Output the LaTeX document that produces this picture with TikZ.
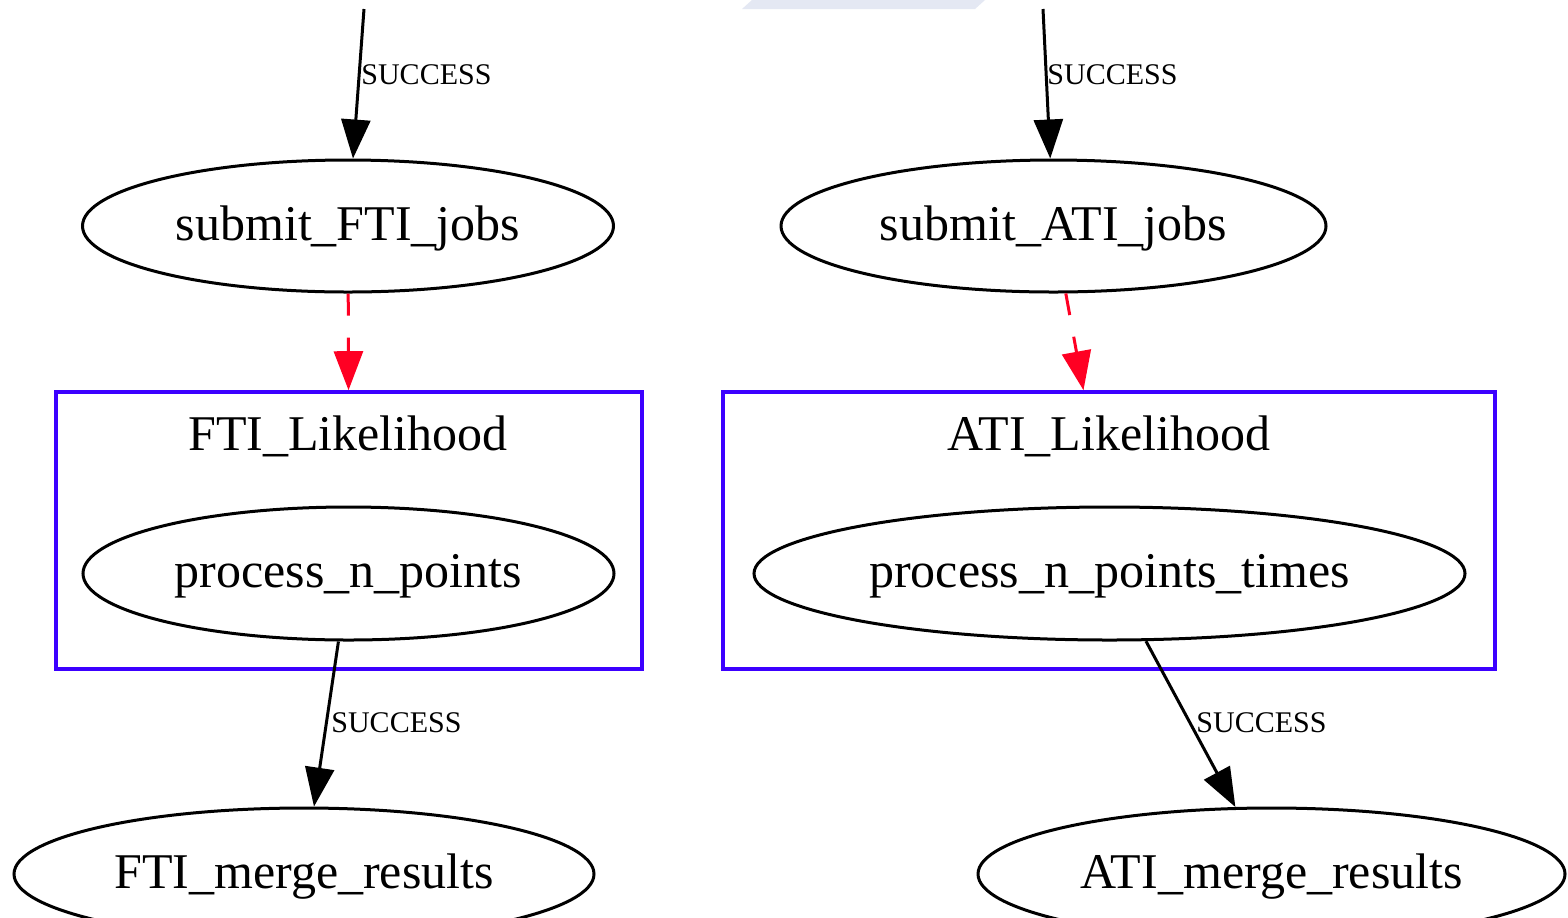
\documentclass[tikz,border=0pt]{standalone}
\usepackage{fontspec}
\setmainfont{Liberation Serif}
\usetikzlibrary{arrows.meta,shapes.geometric}
\definecolor{clblue}{RGB}{60,0,255}
\definecolor{edred}{RGB}{255,0,35}
\definecolor{faint}{RGB}{228,232,243}
\tikzset{
  job/.style={draw=black, line width=1.5pt, ellipse, inner sep=0pt,
    text height=18pt, text depth=4pt, font=\fontsize{25}{30}\selectfont},
  cluster/.style={draw=clblue, line width=1.8pt, rectangle, inner sep=0pt},
  clabel/.style={anchor=base, inner sep=0pt, font=\fontsize{25}{30}\selectfont},
  elabel/.style={anchor=base west, inner sep=0pt, font=\fontsize{15}{18}\selectfont},
  succ/.style={draw=black, line width=1.5pt, -{Triangle[length=19.5pt,width=14.5pt]}},
  dep/.style={draw=edred, line width=1.5pt, dash pattern=on 11pt off 11pt,
    -{Triangle[length=19.5pt,width=14.5pt]}, edred}
}
\begin{document}
\begin{tikzpicture}[x=0.5pt, y=-0.5pt]
\useasboundingbox (0,0) rectangle (1568,917);
\fill[white] (0,0) rectangle (1568,917);
% faint shape at the top edge
\fill[faint] (742,9) -- (752,0) -- (985,0) -- (975,9) -- cycle;

% clusters
\node[cluster, minimum width=293pt, minimum height=138.5pt] (boxF) at (349,530.5) {};
\node[cluster, minimum width=386pt, minimum height=138.5pt] (boxA) at (1109,530.5) {};
\node[clabel] (labF) at (348,450) {FTI\_Likelihood};
\node[clabel] (labA) at (1109,450) {ATI\_Likelihood};

% job nodes
\node[job, minimum width=265.5pt, minimum height=66pt] (sF) at (348,226) {submit\_FTI\_jobs};
\node[job, minimum width=272.5pt, minimum height=66pt] (sA) at (1053.5,226) {submit\_ATI\_jobs};
\node[job, minimum width=265.5pt, minimum height=66.5pt] (pF) at (348.5,573.5) {process\_n\_points};
\node[job, minimum width=355.5pt, minimum height=66.5pt] (pA) at (1109.5,573.5) {process\_n\_points\_times};
\node[job, minimum width=290pt, minimum height=66pt] (mF) at (304,874) {FTI\_merge\_results};
\node[job, minimum width=293.5pt, minimum height=66pt] (mA) at (1271.5,874) {ATI\_merge\_results};

% incoming edges from above
\coordinate (inF) at (364,9);
\coordinate (inA) at (1043,9);
\draw[succ] (inF) -- (sF);
\draw[succ] (inA) -- (sA);
\node[elabel] (l1) at (361,84) {SUCCESS};
\node[elabel] (l2) at (1047,84) {SUCCESS};

% dashed red edges
\draw[dep] (sF) -- (boxF);
\draw[dep] (sA) -- (boxA);

% bottom edges
\draw[succ] (pF) -- (mF);
\draw[succ] (pA) -- (mA);
\node[elabel] (l3) at (331,732) {SUCCESS};
\node[elabel] (l4) at (1196,732) {SUCCESS};
\end{tikzpicture}
\end{document}
